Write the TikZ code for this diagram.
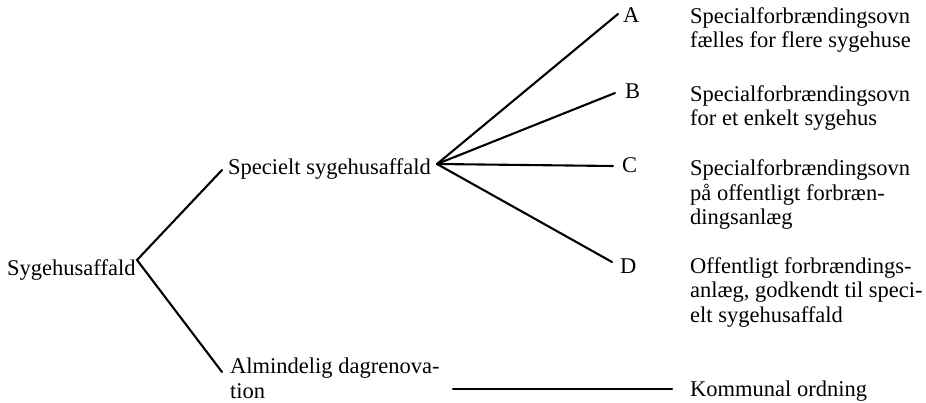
\documentclass[tikz,border=0pt]{standalone}
\usepackage{fontspec}
\setmainfont{Liberation Serif}
\begin{document}
\begin{tikzpicture}[x=1pt,y=-1pt,
  lbl/.style={anchor=base west,inner sep=0pt,align=left,font=\fontsize{22.5}{24.5}\selectfont},
  conn/.style={line width=2.1pt,line cap=round}]
\useasboundingbox (0,0) rectangle (926,403);
% text nodes (base anchor = baseline of the last line)
\node[lbl] (root) at (7,276) {Sygehusaffald};
\node[lbl] (spec) at (228,175) {Specielt sygehusaffald};
\node[lbl] (alm) at (230,398) {Almindelig dagrenova-\\tion};
\node[lbl] (A) at (623,23) {A};
\node[lbl] (B) at (625,99) {B};
\node[lbl] (C) at (622,173) {C};
\node[lbl] (D) at (620,273) {D};
\node[lbl] (tA) at (690,48) {Specialforbrændingsovn\\fælles for flere sygehuse};
\node[lbl] (tB) at (690,126) {Specialforbrændingsovn\\for et enkelt sygehus};
\node[lbl] (tC) at (690,225) {Specialforbrændingsovn\\på offentligt forbræn-\\dingsanlæg};
\node[lbl] (tD) at (690,322) {Offentligt forbrændings-\\anlæg, godkendt til speci-\\elt sygehusaffald};
\node[lbl] (tK) at (690,396) {Kommunal ordning};
% junction points
\coordinate (j0) at (137,260);
\coordinate (js) at (222,170);
\coordinate (ja) at (222,372);
\coordinate (j1) at (437,164);
\coordinate (eA) at (618,14);
\coordinate (eB) at (615,93);
\coordinate (eC) at (613,166);
\coordinate (eD) at (612,262);
\coordinate (hL) at (453,389);
\coordinate (hR) at (672,389);
% connectors
\draw[conn] (js) -- (j0) -- (ja);
\draw[conn] (j1) -- (eA);
\draw[conn] (j1) -- (eB);
\draw[conn] (j1) -- (eC);
\draw[conn] (j1) -- (eD);
\draw[conn] (hL) -- (hR);
\end{tikzpicture}
\end{document}
